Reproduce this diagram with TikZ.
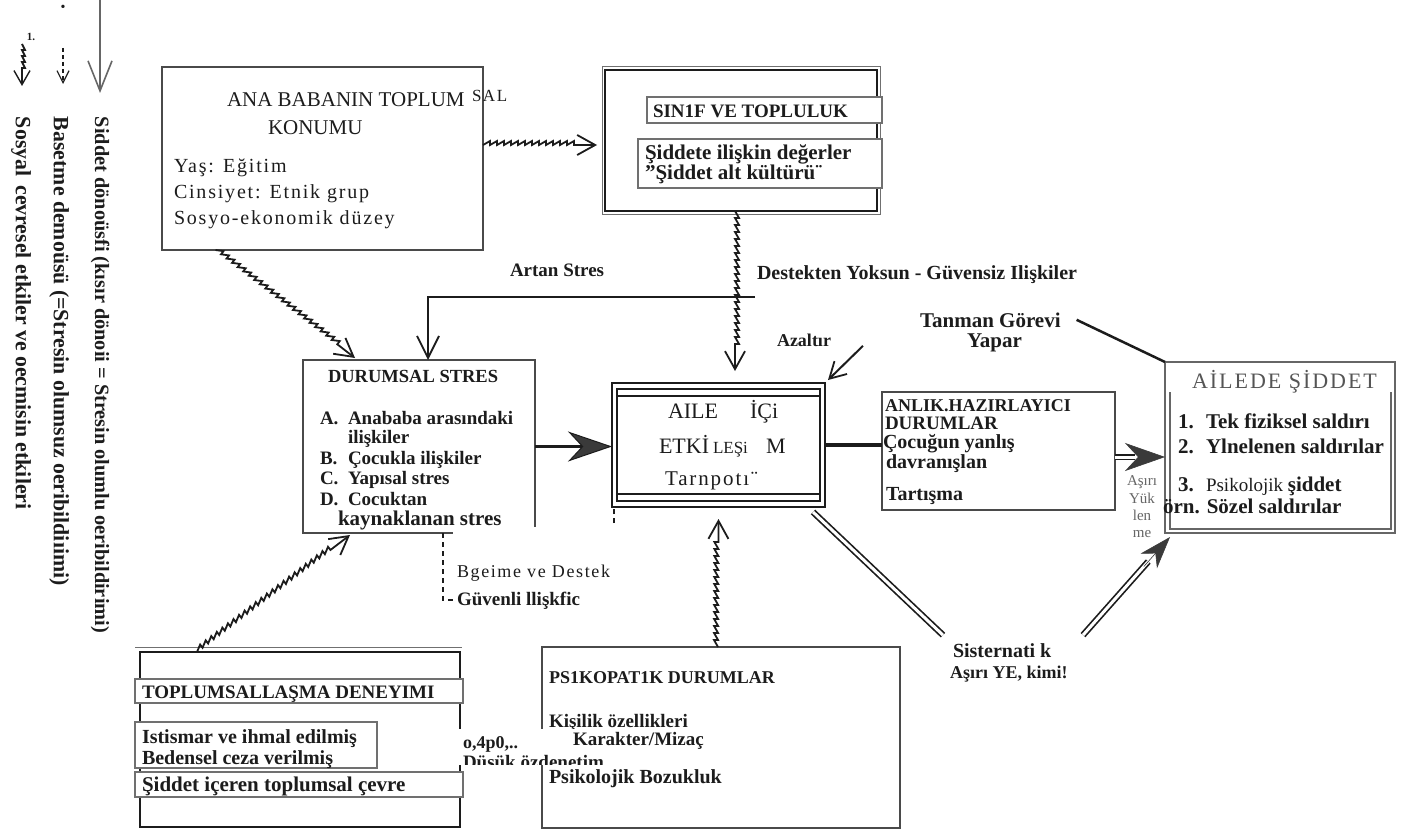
\documentclass[tikz,border=0pt]{standalone}
\usepackage{fontspec}
\setmainfont{Liberation Serif}
\newfontfamily\spacedfont[LetterSpace=9]{Liberation Serif}
\usetikzlibrary{arrows.meta,decorations.pathmorphing,calc}
\definecolor{ink}{HTML}{1C1C1C}
\definecolor{boxc}{HTML}{4A4A4A}
\definecolor{gbox}{HTML}{707070}
\definecolor{headc}{HTML}{555555}
\definecolor{tipc}{HTML}{3A3A3A}
\definecolor{softc}{HTML}{666666}
\newcommand\myfs[1]{\fontsize{#1}{#1}\selectfont}
\begin{document}
\begin{tikzpicture}[x=1pt,y=-1pt,
  txt/.style={inner sep=0pt,outer sep=0pt,text=ink,anchor=base west},
  bx/.style={draw=boxc,line width=1.3pt,inner sep=0pt,outer sep=0pt},
  gb/.style={draw=gbox,line width=2.8pt,fill=white,inner sep=0pt,outer sep=0pt},
  cyc/.style={draw=ink,line width=2pt,-{Straight Barb[length=22pt,width=22pt,line width=1.8pt]}},
  big/.style={draw=ink,line width=3.5pt,-{Stealth[length=44pt,width=30pt,inset=14pt,fill=tipc,line width=1pt]}},
  dbl/.style={draw=ink,line width=1.7pt,double=white,double distance=3pt},
  tipsty/.style={draw=tipc,line width=0.6pt,-{Stealth[length=40pt,width=28pt,inset=13pt,fill=tipc,line width=0.6pt]}},
  soc/.style={draw=ink,line width=1.8pt,decorate,decoration={saw,segment length=7pt,amplitude=4pt,post length=22pt},
     -{Straight Barb[length=18pt,width=20pt,line width=1.8pt]}},
  cope/.style={draw=ink,line width=1.4pt,dash pattern=on 5pt off 4pt},
]
\useasboundingbox (0,0) rectangle (1402,832);
\fill[white] (0,0) rectangle (1402,832);

% ---------------- legend ----------------
\coordinate (lgA1) at (100,0); \coordinate (lgA2) at (100,93);
\draw[softc,line width=1.3pt,-{Straight Barb[length=30pt,width=24pt,line width=1.6pt]}] (lgA1) -- (lgA2);
\node[txt,anchor=center,font=\myfs{14}] (bul) at (63,8) {•};
\node[txt,anchor=center,font=\bfseries\myfs{11}] (one) at (31,37) {1.};
\coordinate (lgB1) at (63,48); \coordinate (lgB2) at (63,84);
\draw[cope,dash pattern=on 4pt off 3pt,-{Straight Barb[length=12pt,width=12pt,line width=1.2pt]}] (lgB1) -- (lgB2);
\coordinate (lgC1) at (22,44); \coordinate (lgC2) at (22,86);
\draw[soc,decoration={saw,segment length=6pt,amplitude=3pt,post length=14pt},-{Straight Barb[length=14pt,width=16pt,line width=1.4pt]}] (lgC1) -- (lgC2);
\node[txt,anchor=west,rotate=-90,font=\bfseries\myfs{20.3}] (leg1) at (100,117) {Siddet dönoüsfi (kısır dönoii = Stresin olumlu oeribildirimi)};
\node[txt,anchor=west,rotate=-90,font=\bfseries\myfs{21.8}] (leg2) at (59,117) {Basetme demoüsü (=Stresin olumsuz oeribildiıimi)};
\node[txt,anchor=west,rotate=-90,font=\bfseries\myfs{21.8}] (leg3) at (21,117) {Sosyal\, cevresel etkiler ve oecmisin etkileri};

% ---------------- boxes ----------------
\node[bx,minimum width=321pt,minimum height=183pt] (ana) at (322.5,158.5) {};
\node[draw=ink,line width=2.5pt,minimum width=272pt,minimum height=141pt,inner sep=0pt,outer sep=0pt] (sinif) at (741,140.5) {};
\draw[gbox,line width=1pt] ([shift={(-3pt,3pt)}]sinif.north west) rectangle ([shift={(3pt,-3pt)}]sinif.south east);
\node[gb,minimum width=235pt,minimum height=26pt] (sinA) at (764.5,110) {};
\node[gb,minimum width=244pt,minimum height=49pt] (sinB) at (760,163.5) {};

\node[draw=ink,line width=1.2pt,minimum width=213pt,minimum height=124pt,inner sep=0pt,outer sep=0pt] (aile) at (718.5,445) {};
\draw[ink,line width=2.5pt] ([shift={(5pt,-6pt)}]aile.north west) rectangle ([shift={(-5pt,6pt)}]aile.south east);
\draw[ink,line width=1.4pt] ([shift={(5pt,-13pt)}]aile.north west) -- ([shift={(-5pt,-13pt)}]aile.north east);
\draw[ink,line width=1.4pt] ([shift={(5pt,13pt)}]aile.south west) -- ([shift={(-5pt,13pt)}]aile.south east);

\node[bx,minimum width=232pt,minimum height=173pt] (dur) at (419,446.5) {};
\node[bx,minimum width=233pt,minimum height=118pt] (anlik) at (998.5,451) {};
\node[draw=softc,line width=1.5pt,minimum width=230pt,minimum height=171pt,inner sep=0pt,outer sep=0pt] (ailede) at (1280,447.5) {};
\draw[softc,line width=1.2pt] ([shift={(5pt,-30pt)}]ailede.north west) -- ([shift={(5pt,4pt)}]ailede.south west) -- ([shift={(-4pt,4pt)}]ailede.south east) -- ([shift={(-4pt,-30pt)}]ailede.north east);
\node[draw=boxc,line width=1.1pt,minimum width=358pt,minimum height=181pt,inner sep=0pt,outer sep=0pt] (psiko) at (721,737.5) {};
\node[draw=ink,line width=2.5pt,minimum width=320pt,minimum height=175pt,inner sep=0pt,outer sep=0pt] (toplum) at (300,739.5) {};
\draw[gbox,line width=1pt] ([shift={(-5pt,5pt)}]toplum.north west) -- ([shift={(2pt,5pt)}]toplum.north east);
\node[gb,minimum width=328pt,minimum height=24pt] (topA) at (299,691) {};
\node[gb,minimum width=242pt,minimum height=46pt] (topB) at (256,745) {};
\node[gb,minimum width=328pt,minimum height=25pt] (topC) at (299,784.5) {};

% ---------------- texts in boxes ----------------
\node[txt,font=\myfs{21}] (anat1) at (227,107) {ANA BABANIN TOPLUM};
\node[txt,font=\spacedfont\myfs{17}] (anat2) at (472,101.5) {SAL};
\node[txt,font=\myfs{21}] (anat3) at (268,135) {KONUMU};
\node[txt,font=\spacedfont\myfs{20}] (anat4) at (174,172) {Yaş: Eğitim};
\node[txt,font=\spacedfont\myfs{20}] (anat5) at (174,198) {Cinsiyet: Etnik grup};
\node[txt,font=\spacedfont\myfs{20}] (anat6) at (174,224) {Sosyo-ekonomik düzey};

\node[txt,font=\bfseries\myfs{19}] (sint1) at (653,117.3) {SIN1F VE TOPLULUK};
\node[txt,font=\bfseries\myfs{21}] (sint2) at (645,159) {Şiddete ilişkin değerler};
\node[txt,font=\bfseries\myfs{21}] (sint3) at (645,179) {"Şiddet alt kültürü¨};

\node[txt,font=\myfs{22}] (ailet1) at (668,418) {AILE};
\node[txt,font=\myfs{22}] (ailet2) at (750,418) {İÇi};
\node[txt,font=\myfs{22}] (ailet3) at (659,453) {ETKİ};
\node[txt,font=\myfs{17}] (ailet4) at (713,453) {LEŞi};
\node[txt,font=\myfs{22}] (ailet5) at (766,453) {M};
\node[txt,font=\spacedfont\myfs{21}] (ailet6) at (665,485) {Tarnpotı¨};

\node[txt,font=\bfseries\myfs{18.5}] (durt0) at (328,382) {DURUMSAL STRES};
\node[txt,font=\bfseries\myfs{19}] (durA) at (320,424) {A.};
\node[txt,font=\bfseries\myfs{19}] (durA1) at (348,424) {Anababa arasındaki};
\node[txt,font=\bfseries\myfs{19}] (durA2) at (348,443) {ilişkiler};
\node[txt,font=\bfseries\myfs{19}] (durB) at (320,464) {B.};
\node[txt,font=\bfseries\myfs{19}] (durB1) at (348,464) {Çocukla ilişkiler};
\node[txt,font=\bfseries\myfs{19}] (durC) at (320,484) {C.};
\node[txt,font=\bfseries\myfs{19}] (durC1) at (348,484) {Yapısal stres};
\node[txt,font=\bfseries\myfs{19}] (durD) at (320,505) {D.};
\node[txt,font=\bfseries\myfs{19}] (durD1) at (348,505) {Cocuktan};
\node[txt,font=\bfseries\myfs{21}] (durD2) at (338,525) {kaynaklanan stres};

\node[txt,font=\bfseries\myfs{18}] (anl1) at (885,411) {ANLIK.HAZIRLAYICI};
\node[txt,font=\bfseries\myfs{19}] (anl2) at (885,429) {DURUMLAR};
\node[txt,font=\bfseries\myfs{20}] (anl3) at (883,448) {Çocuğun yanlış};
\node[txt,font=\bfseries\myfs{20}] (anl4) at (886,468) {davranışlan};
\node[txt,font=\bfseries\myfs{20}] (anl5) at (886,500) {Tartışma};

\node[txt,text=headc,font=\spacedfont\myfs{22}] (aidh) at (1192,388) {AİLEDE ŞİDDET};
\node[txt,font=\bfseries\myfs{21}] (aid1n) at (1178,428) {1.};
\node[txt,font=\bfseries\myfs{21}] (aid1) at (1206,428) {Tek fiziksel saldırı};
\node[txt,font=\bfseries\myfs{21}] (aid2n) at (1178,453) {2.};
\node[txt,font=\bfseries\myfs{21}] (aid2) at (1206,453) {Ylnelenen saldırılar};
\node[txt,font=\bfseries\myfs{21}] (aid3n) at (1178,491) {3.};
\node[txt,font=\myfs{19}] (aid3) at (1206,491) {Psikolojik \textbf{\myfs{21}şiddet}};
\node[txt,font=\bfseries\myfs{21}] (aid4) at (1163,513) {örn. Sözel saldırılar};

\node[txt,font=\bfseries\myfs{18}] (psit1) at (549,683) {PS1KOPAT1K DURUMLAR};
\node[txt,font=\bfseries\myfs{19}] (psit2) at (549,727) {Kişilik özellikleri};
\node[txt,font=\bfseries\myfs{20}] (psit5) at (549,783) {Psikolojik Bozukluk};

\node[txt,font=\bfseries\myfs{19}] (topt1) at (142,698) {TOPLUMSALLAŞMA DENEYIMI};
\node[txt,font=\bfseries\myfs{20}] (topt2) at (142,743) {Istismar ve ihmal edilmiş};
\node[txt,font=\bfseries\myfs{20}] (topt3) at (142,764) {Bedensel ceza verilmiş};
\node[txt,font=\bfseries\myfs{21}] (topt4) at (142,791) {Şiddet içeren toplumsal çevre};

% ---------------- free labels ----------------
\node[txt,font=\bfseries\myfs{19}] (artan) at (510,276) {Artan Stres};
\node[txt,font=\bfseries\myfs{20}] (dest) at (757,279) {Destekten Yoksun - Güvensiz Ilişkiler};
\node[txt,font=\bfseries\myfs{18}] (azal) at (777,346) {Azaltır};
\node[txt,font=\bfseries\myfs{21}] (tan) at (920,327) {Tanman Görevi};
\node[txt,font=\bfseries\myfs{21}] (yap) at (967,347) {Yapar};
\node[txt,font=\bfseries\myfs{20}] (sis) at (953,657) {Sisternati k};
\node[txt,font=\bfseries\myfs{18}] (sis2) at (950,678) {Aşırı YE, kimi!};
\node[txt,anchor=base,text=softc,font=\myfs{15}] (ay1) at (1142,485) {Aşırı};
\node[txt,anchor=base,text=softc,font=\myfs{15}] (ay2) at (1142,503) {Yük};
\node[txt,anchor=base,text=softc,font=\myfs{15}] (ay3) at (1142,520) {len};
\node[txt,anchor=base,text=softc,font=\myfs{15}] (ay4) at (1142,537) {me};

% ---------------- connectors ----------------
% social / environmental (saw lines)
\draw[soc] ([yshift=13.5pt]ana.east) -- ([xshift=-8pt,yshift=-4.5pt]sinif.west);
\draw[soc] ([xshift=-107pt]ana.south) -- ([xshift=52pt,yshift=2pt]dur.north west);
\draw[soc] ([xshift=-6pt]sinif.south) -- ([xshift=16.5pt,yshift=12pt]aile.north);
\draw[soc] ([xshift=-3pt]psiko.north) -- ([yshift=-12pt]aile.south);
\draw[soc] ([xshift=-103pt]toplum.north) -- ([xshift=47pt,yshift=-2pt]dur.south west);

% cycle of violence
\coordinate (artanA) at (755,297);
\coordinate (artanB) at (428,297);
\draw[cyc] (artanA) -- (artanB) -- (artanB |- dur.north);
\draw[big] (dur.east) -- (dur.east -| aile.west);
\draw[ink,line width=3.5pt] (aile.east) -- (aile.east -| anlik.west);
\coordinate (t1) at ([yshift=-6pt]anlik.east);
\draw[dbl] (t1) -- ($(t1 -| ailede.west)+(-30,0)$);
\draw[tipsty] ($(t1 -| ailede.west)+(-20,0)$) -- (t1 -| ailede.west);
\draw[ink,line width=2.5pt] (ailede.north west) -- ([xshift=16pt]tan.east);
\draw[ink,line width=2pt,-{Straight Barb[length=16pt,width=18pt,line width=1.8pt]}] ([xshift=32pt,yshift=-6pt]azal.east) -- ([shift={(3pt,3pt)}]aile.north east);
\draw[dbl] ([shift={(-12pt,-5pt)}]aile.south east) -- ([shift={(-10pt,8pt)}]sis.north west);
\coordinate (s2) at ([shift={(130pt,8pt)}]sis.north west);
\coordinate (s3) at ([shift={(5pt,-4pt)}]ailede.south west);
\draw[dbl] (s2) -- ($(s2)!0.75!(s3)$);
\draw[tipsty,-{Stealth[length=32pt,width=22pt,inset=10pt,fill=tipc]}] ($(s2)!0.7!(s3)$) -- (s3);

% coping loop
\coordinate (copeA) at (443,600);
\draw[cope] (copeA |- dur.south) -- (copeA) -| ([xshift=2pt]aile.south west);
\fill[white] (453,527) rectangle (620,622);
\node[txt,font=\spacedfont\myfs{18}] (bge) at (457,577) {Bgeime ve Destek};
\node[txt,font=\bfseries\myfs{19}] (guv) at (457,605) {Güvenli llişkfic};

% overlay label on psiko box
\fill[white] (455,729) rectangle (713,765);
\node[txt,font=\bfseries\myfs{18}] (ofp) at (463,748) {o,4p0,..};
\node[txt,font=\bfseries\myfs{19}] (psit3) at (573,745) {Karakter/Mizaç};
\begin{scope}
\clip (455,729) rectangle (713,764);
\node[txt,font=\bfseries\myfs{19}] (dus) at (463,768) {Düsük özdenetim};
\end{scope}
\end{tikzpicture}
\end{document}
